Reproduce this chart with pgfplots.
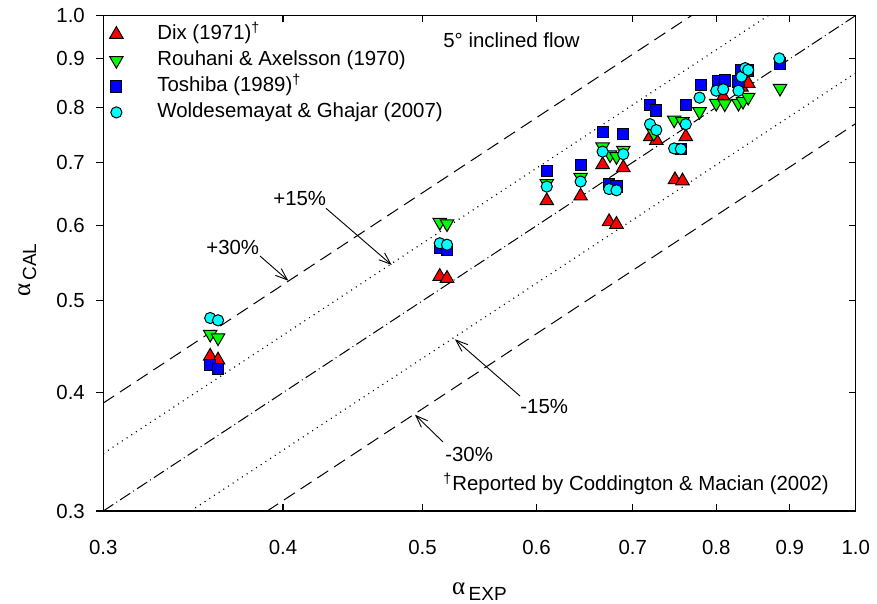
\documentclass[border=0pt]{standalone}
\usepackage{fontspec}
\setmainfont{Liberation Sans}
\newfontfamily\grk{Liberation Serif}
\usepackage{pgfplots}
\pgfplotsset{compat=1.18}
\usetikzlibrary{arrows.meta}
\definecolor{mkred}{RGB}{255,0,0}
\definecolor{mkgreen}{RGB}{0,255,0}
\definecolor{mkblue}{RGB}{0,0,255}
\definecolor{mkcyan}{RGB}{0,255,255}
\begin{document}
\begin{tikzpicture}[font=\fontsize{10.2}{12.2}\selectfont]
\begin{axis}[
  scale only axis, width=376.2pt, height=247.75pt,
  xmode=log, ymode=log, xmin=0.3, xmax=1.0, ymin=0.3, ymax=1.0,
  xtick={0.3,0.4,0.5,0.6,0.7,0.8,0.9,1.0},
  xticklabels={0.3,0.4,0.5,0.6,0.7,0.8,0.9,1.0},
  ytick={0.3,0.4,0.5,0.6,0.7,0.8,0.9,1.0},
  yticklabels={0.3,0.4,0.5,0.6,0.7,0.8,0.9,1.0},
  minor xtick={}, minor ytick={},
  tick align=inside, major tick length=3.5pt,
  ytick pos=right, yticklabel pos=left,
  xticklabel style={yshift=-11pt},
  yticklabel style={xshift=-5.7pt},
  axis line style={line width=0.6pt},
  tick style={line width=0.6pt, black},
  xlabel={{\grk\fontsize{12.5}{14}\selectfont α}\,\raisebox{-3pt}{\fontsize{9.5}{11}\selectfont EXP}},
  ylabel={{\grk\fontsize{12.5}{14}\selectfont α}\,\raisebox{-3pt}{\fontsize{9.5}{11}\selectfont CAL}},
  xlabel style={at={(axis description cs:0.5,-0.163)}, anchor=center},
  ylabel style={at={(axis description cs:-0.101,0.486)}, anchor=center},
  legend cell align=left,
  legend style={draw=none, fill=none, at={(rel axis cs:0,1)}, anchor=north west,
    yshift=-2.75pt, inner sep=0pt, row sep=0pt,
    nodes={inner sep=1.5pt, text height=7.5pt, text depth=2.5pt}},
  legend image code/.code={\path[draw=none, fill=none] (0pt,0pt) -- (25.35pt,0pt); \path[#1, draw=none, fill=none] plot[only marks] coordinates {(6.35pt,0pt)};},
]
\coordinate (ll) at (rel axis cs:0,0);
\coordinate (ur) at (rel axis cs:1,1);
% guide lines
\addplot[forget plot, black, line width=0.5pt, dash pattern=on 6.5pt off 3.5pt] coordinates {(0.3,0.39) (0.7692,1.0)};
\addplot[forget plot, black, line width=0.6pt, dash pattern=on 0.5pt off 2.3pt] coordinates {(0.3,0.345) (0.8696,1.0)};
\addplot[forget plot, black, line width=0.5pt, dash pattern=on 6pt off 1.8pt on 0.5pt off 1.8pt] coordinates {(0.3,0.3) (1.0,1.0)};
\addplot[forget plot, black, line width=0.6pt, dash pattern=on 0.5pt off 2.3pt] coordinates {(0.345,0.3) (1.0,0.8696)};
\addplot[forget plot, black, line width=0.5pt, dash pattern=on 6.5pt off 3.5pt] coordinates {(0.39,0.3) (1.0,0.7692)};
% Dix (1971)
\addplot[only marks, mark=triangle*, mark size=3.9pt, mark options={fill=mkred, draw=black, line width=0.5pt}] coordinates {
(0.356,0.437) (0.3605,0.433)
(0.514,0.5305) (0.520,0.528)
(0.610,0.6375) (0.644,0.645) (0.667,0.696)
(0.674,0.606) (0.682,0.602) (0.6895,0.691)
(0.720,0.745) (0.727,0.738) (0.762,0.745)
(0.749,0.671) (0.758,0.669)
(0.809,0.821) (0.833,0.840) (0.842,0.848)
};
\addlegendentry{Dix (1971)\textsuperscript{†}}
% Rouhani & Axelsson (1970)
\addplot[only marks, mark=triangle*, mark size=3.9pt, mark options={rotate=180, fill=mkgreen, draw=black, line width=0.5pt}] coordinates {
(0.356,0.461) (0.3605,0.457)
(0.514,0.605) (0.520,0.603)
(0.610,0.665) (0.644,0.675)
(0.667,0.727) (0.675,0.713) (0.6895,0.721) (0.682,0.710)
(0.724,0.751) (0.748,0.776) (0.758,0.773) (0.779,0.792)
(0.800,0.808) (0.811,0.807) (0.829,0.808) (0.835,0.812) (0.842,0.820)
(0.886,0.838)
};
\addlegendentry{Rouhani \& Axelsson (1970)}
% Toshiba (1989)
\addplot[only marks, mark=square*, mark size=2.8pt, mark options={fill=mkblue, draw=black, line width=0.5pt}] coordinates {
(0.356,0.428) (0.3605,0.424)
(0.514,0.568) (0.520,0.566)
(0.610,0.686) (0.644,0.696) (0.667,0.754)
(0.674,0.664) (0.682,0.660) (0.6895,0.750)
(0.7196,0.805) (0.727,0.794) (0.762,0.805) (0.756,0.723)
(0.781,0.845) (0.802,0.853) (0.811,0.854) (0.829,0.852)
(0.833,0.876) (0.842,0.875) (0.886,0.890)
};
\addlegendentry{Toshiba (1989)\textsuperscript{†}}
% Woldesemayat & Ghajar (2007)
\addplot[only marks, mark=*, mark size=2.8pt, mark options={fill=mkcyan, draw=black, line width=0.5pt}] coordinates {
(0.356,0.4795) (0.3605,0.4768)
(0.514,0.575) (0.520,0.573)
(0.610,0.660) (0.644,0.668) (0.667,0.7185)
(0.674,0.656) (0.682,0.654) (0.6895,0.714)
(0.7196,0.768) (0.727,0.757) (0.762,0.768)
(0.748,0.724) (0.756,0.723) (0.779,0.819)
(0.800,0.833) (0.809,0.836) (0.829,0.833) (0.833,0.862)
(0.838,0.880) (0.842,0.876) (0.885,0.901)
};
\addlegendentry{Woldesemayat \& Ghajar (2007)}
% annotations
\node[anchor=west, inner sep=0pt] at (rel axis cs:0.4515,0.9506) {5° inclined flow};
\node[anchor=west, inner sep=0pt] at (rel axis cs:0.1365,0.5328) {+30\%};
\node[anchor=west, inner sep=0pt] at (rel axis cs:0.2255,0.6297) {+15\%};
\node[anchor=west, inner sep=0pt] at (rel axis cs:0.5538,0.2099) {-15\%};
\node[anchor=west, inner sep=0pt] at (rel axis cs:0.4541,0.1150) {-30\%};
\node[anchor=west, inner sep=0pt] at (rel axis cs:0.4515,0.0545) {\textsuperscript{†}Reported by Coddington \& Macian (2002)};
\draw[-{Straight Barb[length=6pt,width=4.5pt]}, line width=0.45pt] (rel axis cs:0.2083,0.5146) -- (rel axis cs:0.2459,0.4648);
\draw[-{Straight Barb[length=6pt,width=4.5pt]}, line width=0.45pt] (rel axis cs:0.296,0.6109) -- (rel axis cs:0.3833,0.4965);
\draw[-{Straight Barb[length=6pt,width=4.5pt]}, line width=0.45pt] (rel axis cs:0.5538,0.2321) -- (rel axis cs:0.4674,0.3465);
\draw[-{Straight Barb[length=6pt,width=4.5pt]}, line width=0.45pt] (rel axis cs:0.4515,0.1393) -- (rel axis cs:0.4143,0.1943);
\end{axis}
\begin{axis}[
  scale only axis, width=376.2pt, height=247.75pt,
  xmode=log, ymode=log, xmin=0.3, xmax=1.0, ymin=0.3, ymax=1.0,
  axis x line=none, axis y line*=left,
  ytick={0.3,0.4,0.5,0.6,0.7,0.8,0.9,1.0}, yticklabels={},
  minor ytick={},
  tick align=outside, major tick length=3.5pt,
  axis line style={line width=0.6pt},
  tick style={line width=0.6pt, black},
]
\end{axis}
\pgfresetboundingbox
\path[use as bounding box] ([xshift=-51.65pt,yshift=-46.5pt]ll) rectangle ([xshift=10.65pt,yshift=7.75pt]ur);
\end{tikzpicture}
\end{document}
